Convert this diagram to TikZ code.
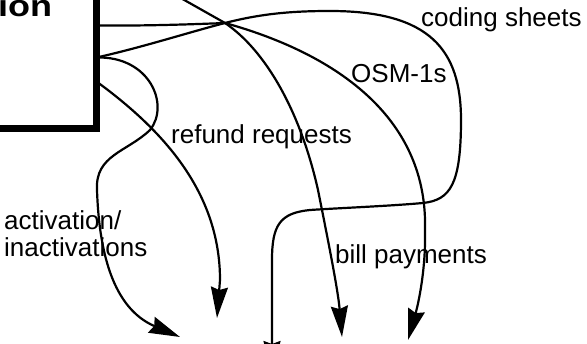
\documentclass[tikz,border=0pt]{standalone}
\usepackage{fontspec}
\setmainfont{Liberation Sans}
\newfontfamily\headfont[FakeStretch=1.2]{Liberation Sans}
\usepackage{tikz}
\usetikzlibrary{calc,positioning,arrows.meta}
\tikzset{
    >={Stealth[length=31pt,width=17pt,inset=3pt]},
    flow/.style={draw, line width=2.2pt, ->},
    unitbox/.style={
        rectangle,
        draw, line width=7pt,
        minimum width=400pt,
        minimum height=300pt,
        outer sep=0pt,
        anchor=south east
    },
    lbl/.style={inner sep=0pt, anchor=base west,
        font={\fontsize{26pt}{27pt}\selectfont}},
    headlbl/.style={inner sep=0pt, anchor=base west,
        font={\headfont\bfseries\fontsize{30pt}{34pt}\selectfont}},
}

\begin{document}
\begin{tikzpicture}[x=1pt, y=-1pt]
    \clip (0,0) rectangle (587,344);

    \node[unitbox] (sys) at (96.5,128.5) {};
    \node[headlbl] (sysname) at (-2,17) {ion};

    % exits on the box, the common crossing and the arrow ends
    \coordinate (outa) at ([yshift=103pt]sys.south east);
    \coordinate (outb) at ([yshift=71pt]sys.south east);
    \coordinate (outc) at ([yshift=47pt]sys.south east);
    \coordinate (hub) at (225,23);
    \coordinate (above) at (140,-25);
    \coordinate (tipa) at (180,337);
    \coordinate (tipb) at (217,318);
    \coordinate (tipc) at (272,372);
    \coordinate (tipd) at (342,337);
    \coordinate (tipe) at (408,340);

    \node[lbl] (sheets) at (421,27) {coding sheets};
    \node[lbl] (osm) at (351,83) {OSM-1s};
    \node[lbl] (refund) at (171,144) {refund requests};
    \node[lbl, align=left] (activ) at (4,257) {activation/\\inactivations};
    \node[lbl] (bill) at (335,264) {bill payments};

    \draw[flow] (outa) .. controls (150,26) and (200,24) .. (hub)
        .. controls (260,14) and (290,11) .. (330,11)
        .. controls (430,11) and (461,50) .. (461,120)
        .. controls (461,185) and (450,200) .. (423,203)
        .. controls (390,206) and (340,208) .. (310,210)
        .. controls (280,213) and (272,225) .. (272,260)
        -- (tipc);
    \draw[flow] (outb) .. controls (140,48) and (190,32) .. (hub)
        .. controls (340,55) and (428,120) .. (425,230)
        .. controls (426,270) and (418,305) .. (tipe);
    \draw[flow] (above) -- (hub)
        .. controls (265,50) and (300,110) .. (318,190)
        .. controls (328,240) and (338,290) .. (tipd);
    \draw[flow] (outb) .. controls (150,56) and (170,105) .. (150,130)
        .. controls (127,152) and (95,155) .. (97,190)
        .. controls (99,250) and (112,308) .. (tipa);
    \draw[flow] (outc) .. controls (160,128) and (220,190) .. (220,280)
        -- (tipb);
\end{tikzpicture}
\end{document}
